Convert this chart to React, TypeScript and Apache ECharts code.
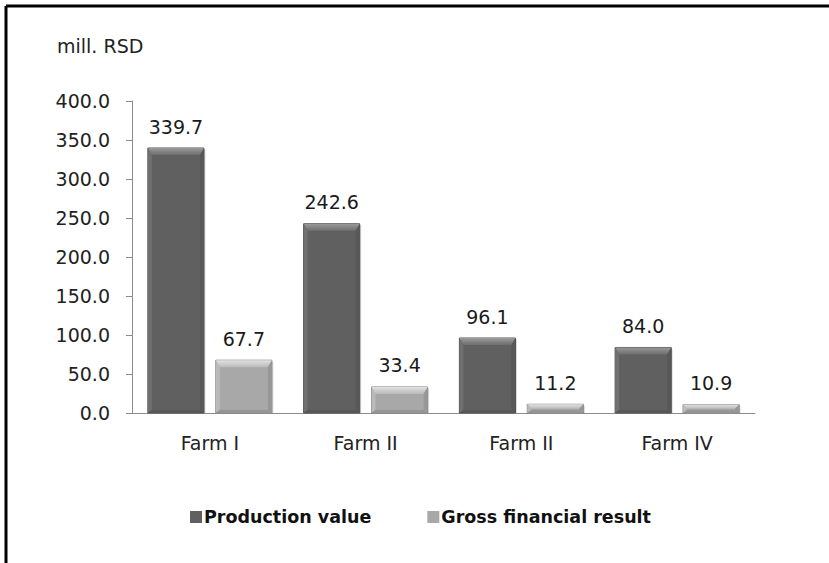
import React, { useEffect, useRef } from "react";
import * as echarts from "echarts";

const categories = ["Farm I", "Farm II", "Farm II", "Farm IV"];
const productionValue = [339.7, 242.6, 96.1, 84.0];
const grossResult = [67.7, 33.4, 11.2, 10.9];
const seriesNames = ["Production value", "Gross financial result"];
const yTicks = { min: 0, max: 400, interval: 50 };

const FONT = "'DejaVu Sans', sans-serif";

const palettes = [
  { main: "#606060", topA: "#9a9a9a", topB: "#6e6e6e", side: "#707070", sideR: "#585858", bottom: "#575757", edge: "#4c4c4c" },
  { main: "#a8a8a8", topA: "#e2e2e2", topB: "#bababa", side: "#bababa", sideR: "#979797", bottom: "#959595", edge: "#888888" },
];

function makeRender(seriesIdx: number) {
  const pal = palettes[seriesIdx];
  return (params: any, api: any) => {
    const cat = api.value(0);
    const val = api.value(1);
    const base = api.coord([cat, 0]);
    const topP = api.coord([cat, val]);
    const catW = api.size([1, 0])[0];
    const bw = catW * 0.36;
    const off = catW * 0.218 * (seriesIdx === 0 ? -1 : 1);
    const cx = base[0] + off;
    const x0 = cx - bw / 2;
    const x1 = cx + bw / 2;
    const y0 = topP[1];
    const y1 = base[1];
    const h = y1 - y0;
    const bt = Math.min(7, h / 2);
    const bs = Math.min(4, h / 2);
    const bb = Math.min(3, h / 2);
    return {
      type: "group",
      children: [
        { type: "rect", shape: { x: x0 + 1.5, y: y0 + 1.5, width: bw, height: h - 1.5 }, style: { fill: "rgba(0,0,0,0.15)" } },
        { type: "rect", shape: { x: x0, y: y0, width: bw, height: h }, style: { fill: pal.main, stroke: pal.edge, lineWidth: 1 } },
        {
          type: "polygon",
          shape: { points: [[x0, y0], [x1, y0], [x1 - bs, y0 + bt], [x0 + bs, y0 + bt]] },
          style: {
            fill: new echarts.graphic.LinearGradient(0, 0, 0, 1, [
              { offset: 0, color: pal.topA },
              { offset: 1, color: pal.topB },
            ]),
          },
        },
        { type: "polygon", shape: { points: [[x0, y0], [x0 + bs, y0 + bt], [x0 + bs, y1 - bb], [x0, y1]] }, style: { fill: pal.side } },
        { type: "polygon", shape: { points: [[x1, y0], [x1, y1], [x1 - bs, y1 - bb], [x1 - bs, y0 + bt]] }, style: { fill: pal.sideR } },
        { type: "polygon", shape: { points: [[x0, y1], [x0 + bs, y1 - bb], [x1 - bs, y1 - bb], [x1, y1]] }, style: { fill: pal.bottom } },
        {
          type: "text",
          style: {
            x: cx,
            y: y0 - 12,
            text: val.toFixed(1),
            align: "center",
            verticalAlign: "bottom",
            fontFamily: FONT,
            fontSize: 19,
            fill: "#1a1a1a",
          },
        },
      ],
    };
  };
}

export default function App() {
  const ref = useRef<HTMLDivElement>(null);
  useEffect(() => {
    document.body.style.margin = "0";
    const chart = echarts.init(ref.current!, null, { renderer: "svg" });
    chart.setOption({
      animation: false,
      backgroundColor: "#ffffff",
      textStyle: { fontFamily: FONT },
      grid: { left: 132, right: 74, top: 101, bottom: 150 },
      legend: {
        left: 185,
        top: 503,
        itemWidth: 12,
        itemHeight: 12,
        itemGap: 56,
        icon: "rect",
        textStyle: { fontFamily: FONT, fontSize: 17.5, fontWeight: "bold", color: "#111", padding: [0, 0, 0, -3] },
        data: [
          { name: seriesNames[0], itemStyle: { color: palettes[0].main } },
          { name: seriesNames[1], itemStyle: { color: palettes[1].main } },
        ],
      },
      xAxis: {
        type: "category",
        data: categories,
        axisLine: { show: true, lineStyle: { color: "#8c8c8c", width: 1 } },
        axisTick: { show: false },
        axisLabel: { fontFamily: FONT, fontSize: 19, color: "#222", margin: 20 },
      },
      yAxis: {
        type: "value",
        min: yTicks.min,
        max: yTicks.max,
        interval: yTicks.interval,
        splitLine: { show: false },
        axisLine: { show: true, lineStyle: { color: "#8c8c8c", width: 1 } },
        axisTick: { show: true, length: 6, lineStyle: { color: "#8c8c8c" } },
        axisLabel: {
          fontFamily: FONT,
          fontSize: 19,
          color: "#222",
          margin: 22,
          formatter: (v: number) => v.toFixed(1),
        },
      },
      graphic: [
        { type: "line", shape: { x1: 6, y1: 6, x2: 829, y2: 6 }, style: { stroke: "#000", lineWidth: 3 } },
        { type: "line", shape: { x1: 6, y1: 6, x2: 6, y2: 563 }, style: { stroke: "#000", lineWidth: 3 } },
        {
          type: "text",
          left: 57,
          top: 36,
          style: { text: "mill. RSD", fontFamily: FONT, fontSize: 19, fill: "#222" },
        },
      ],
      series: [0, 1].map((si) => ({
        type: "custom",
        name: seriesNames[si],
        itemStyle: { color: palettes[si].main },
        renderItem: makeRender(si),
        encode: { x: 0, y: 1 },
        data: categories.map((_, i) => [i, si === 0 ? productionValue[i] : grossResult[i]]),
      })),
    });
    return () => chart.dispose();
  }, []);
  return <div ref={ref} style={{ width: 829, height: 563 }} />;
}
